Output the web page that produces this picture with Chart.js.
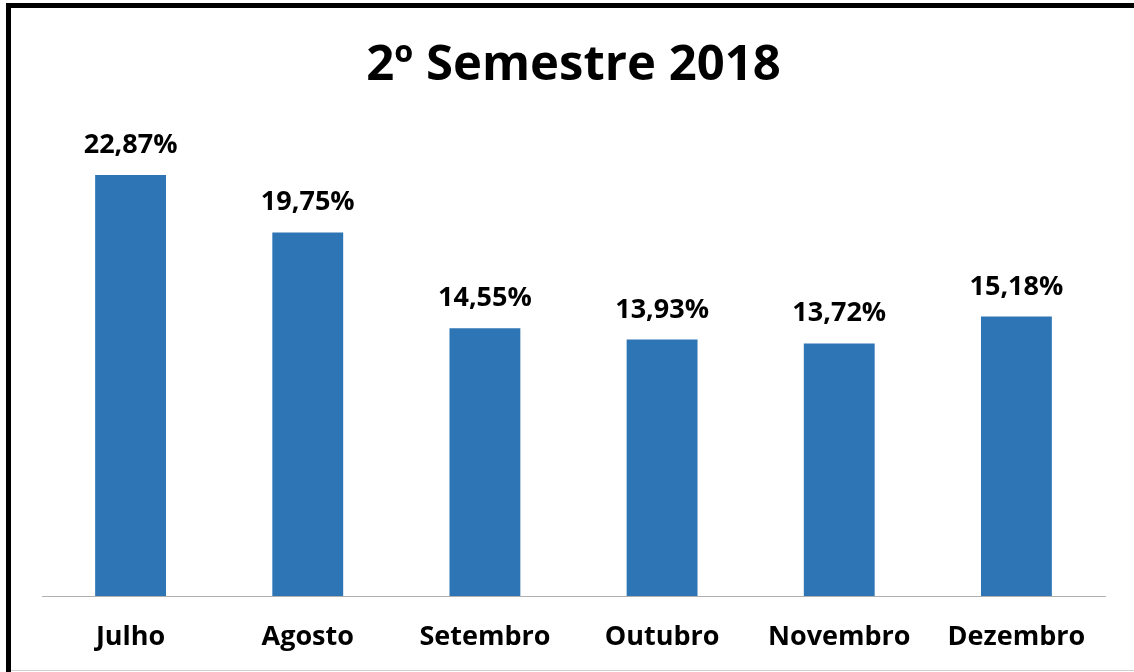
<!DOCTYPE html>
<html>
<head>
<meta charset="utf-8">
<script src="https://cdn.jsdelivr.net/npm/chart.js@4"></script>
<style>
  html, body { margin: 0; padding: 0; background: #fff; }
  #wrap { position: relative; width: 1134px; height: 672px; }
  #frame {
    position: absolute; left: 6px; top: 3px; right: 0; bottom: 0;
    border-top: 5px solid #000; border-left: 5px solid #000;
    pointer-events: none;
  }
  #bottomLine { position: absolute; left: 11px; right: 0; top: 670px; height: 1px; background: #d0d0d0; }
</style>
</head>
<body>
<div id="wrap">
  <canvas id="chart" width="1134" height="672"></canvas>
  <div id="frame"></div>
  <div id="bottomLine"></div>
</div>
<script>
const months = ['Julho', 'Agosto', 'Setembro', 'Outubro', 'Novembro', 'Dezembro'];
const percentages = [22.87, 19.75, 14.55, 13.93, 13.72, 15.18];
const chartTitle = '2º Semestre 2018';

const fmtPct = v => v.toFixed(2).replace('.', ',') + '%';

// value labels above each bar
const barValueLabels = {
    id: 'barValueLabels',
    afterDatasetsDraw(chart) {
        const { ctx } = chart;
        ctx.save();
        ctx.font = 'bold 27px "Open Sans"';
        ctx.fillStyle = '#000';
        ctx.textAlign = 'center';
        ctx.textBaseline = 'alphabetic';
        chart.getDatasetMeta(0).data.forEach((bar, i) => {
            ctx.fillText(fmtPct(percentages[i]), bar.x, bar.y - 22);
        });
        ctx.restore();
    }
};

new Chart(document.getElementById('chart').getContext('2d'), {
    type: 'bar',
    data: {
        labels: months,
        datasets: [{
            data: percentages,
            backgroundColor: '#2E75B6',
            categoryPercentage: 1,
            barPercentage: 0.4
        }]
    },
    options: {
        responsive: false,
        animation: false,
        layout: { padding: { left: 42, right: 29, top: 0, bottom: 0 } },
        plugins: {
            legend: { display: false },
            tooltip: { enabled: false },
            title: {
                display: true,
                text: chartTitle,
                color: '#000',
                font: { family: 'Open Sans', size: 49, weight: 'bold' },
                padding: { top: 37, bottom: 40 }
            }
        },
        scales: {
            x: {
                grid: { display: false, drawTicks: false },
                border: { display: true, color: '#b0b0b0', width: 1 },
                ticks: { color: '#000', padding: 25, font: { family: 'Open Sans', size: 27, weight: 'bold' } },
                afterFit(scale) { scale.height = 76; }
            },
            y: {
                display: false,
                min: 0,
                max: 25
            }
        }
    },
    plugins: [barValueLabels]
});
</script>
</body>
</html>
